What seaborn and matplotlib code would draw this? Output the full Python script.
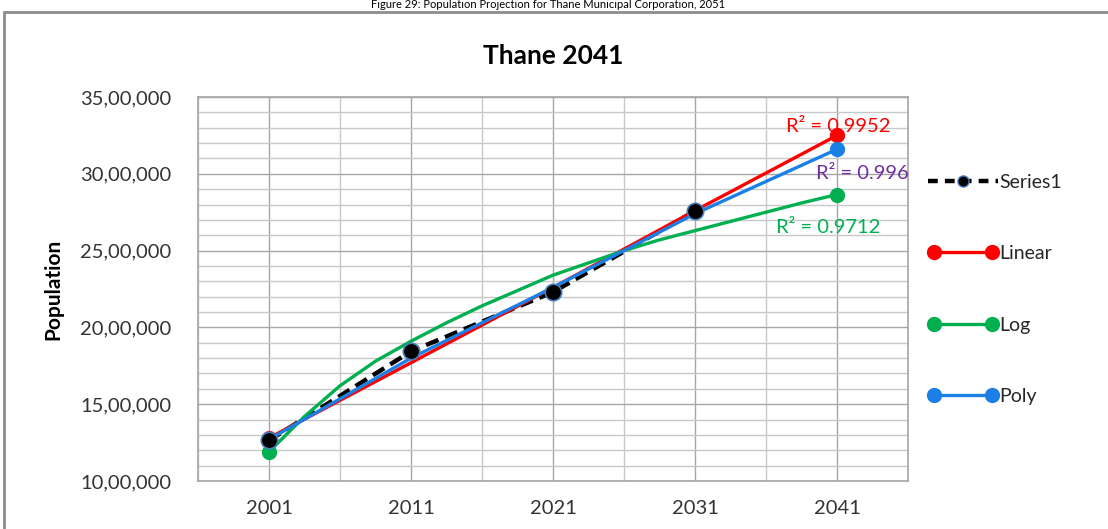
import matplotlib
matplotlib.use("Agg")
import matplotlib.pyplot as plt
from matplotlib.lines import Line2D
from matplotlib.patches import Rectangle
from matplotlib.legend_handler import HandlerLine2D
from matplotlib.ticker import MultipleLocator, FuncFormatter
import seaborn as sns

# Census years on the x axis
years = ["2001", "2011", "2021", "2031", "2041"]
pos_main = [0, 1, 2, 3, 4]

# Observed / projected population (Series1 stops at 2031)
series1 = [1264000, 1844000, 2230000, 2758000]

# Trendline projections at each census year
linear_vals = [1280000, 1770000, 2260000, 2760000, 3250000]
poly_vals = [1270000, 1800000, 2260000, 2740000, 3160000]

# Logarithmic trend, sampled every quarter decade
log_pos = [0, 0.25, 0.5, 0.75, 1, 1.25, 1.5, 1.75, 2,
           2.25, 2.5, 2.75, 3, 3.25, 3.5, 3.75, 4]
log_vals = [1190000, 1420000, 1620000, 1780000, 1910000, 2030000, 2140000, 2240000, 2340000,
            2420000, 2500000, 2570000, 2630000, 2690000, 2750000, 2810000, 2865000]

r2_labels = ["R² = 0.9952", "R² = 0.996", "R² = 0.9712"]

RED = "#FF0000"
GREEN = "#00B050"
BLUE = "#1A80E6"
PURPLE = "#7030A0"
FONT = "Lato"

sns.set_theme(style="white")
plt.rcParams["font.family"] = [FONT, "DejaVu Sans"]

fig = plt.figure(figsize=(11.08, 5.29), dpi=100)
ax = fig.add_axes([198 / 1108, 1 - 481 / 529, 710 / 1108, 384 / 529])

# Grid: category lines plus half-way lines, fine horizontal lines every lakh
ax.set_xlim(-0.5, 4.5)
ax.set_ylim(1000000, 3500000)
ax.xaxis.set_major_locator(MultipleLocator(1))
ax.xaxis.set_minor_locator(MultipleLocator(0.5))
ax.yaxis.set_major_locator(MultipleLocator(500000))
ax.yaxis.set_minor_locator(MultipleLocator(100000))
ax.grid(which="major", color="#A6A6A6", lw=1.0)
ax.grid(which="minor", color="#C8C8C8", lw=1.0)
ax.set_axisbelow(True)
for sp in ax.spines.values():
    sp.set_color("#A6A6A6")
    sp.set_linewidth(1.2)


def indian(v, _pos=None):
    s = str(int(round(v)))
    head, tail = s[:-3], s[-3:]
    groups = []
    while len(head) > 2:
        groups.insert(0, head[-2:])
        head = head[:-2]
    if head:
        groups.insert(0, head)
    return ",".join(groups + [tail]) if groups else tail


ax.yaxis.set_major_formatter(FuncFormatter(indian))
ax.set_xticks(pos_main)
ax.set_xticklabels(years)
ax.tick_params(axis="both", which="both", length=0, labelsize=14.5, colors="#333333")
ax.tick_params(axis="y", pad=19)
ax.tick_params(axis="x", pad=14)

# Series1: dashed black line with outlined markers
sns.lineplot(x=pos_main[:len(series1)], y=series1, ax=ax, color="black", lw=3.2,
             dashes=False, linestyle=(0, (3, 1.6)), zorder=3, legend=False)

# Trendlines with markers at their end points
sns.lineplot(x=pos_main, y=linear_vals, ax=ax, color=RED, lw=2.4, marker="o",
             markersize=11, markeredgewidth=0, markevery=[0, 4], zorder=4, legend=False)
sns.lineplot(x=log_pos, y=log_vals, ax=ax, color=GREEN, lw=2.4, marker="o",
             markersize=11, markeredgewidth=0, markevery=[0, len(log_pos) - 1],
             zorder=4, legend=False)
sns.lineplot(x=pos_main, y=poly_vals, ax=ax, color=BLUE, lw=2.4, marker="o",
             markersize=11, markeredgewidth=0, markevery=[0, 4], zorder=5, legend=False)

sns.scatterplot(x=pos_main[:len(series1)], y=series1, ax=ax, color="black", s=140,
                edgecolor="#4A7EBB", linewidth=1.2, zorder=6, legend=False)

# Goodness-of-fit labels
ax.text(4.01, 3310000, r2_labels[0], color=RED, fontsize=14.5, ha="center", va="center")
ax.text(4.18, 3000000, r2_labels[1], color=PURPLE, fontsize=14.5, ha="center", va="center")
ax.text(3.94, 2650000, r2_labels[2], color=GREEN, fontsize=14.5, ha="center", va="center")

ax.set_title("Thane 2041", fontsize=19, fontweight="bold", color="black", pad=24)
ax.set_ylabel("Population", fontsize=15, fontweight="bold", color="black", labelpad=12)

# Legend
h_series = Line2D([], [], color="black", lw=3.2, linestyle=(0, (2.2, 1.6)), marker="o",
                  markersize=8, markerfacecolor="black", markeredgecolor="#4A7EBB")
h_lin = Line2D([], [], color=RED, lw=2.4, marker="o", markersize=11, markeredgewidth=0)
h_log = Line2D([], [], color=GREEN, lw=2.4, marker="o", markersize=11, markeredgewidth=0)
h_poly = Line2D([], [], color=BLUE, lw=2.4, marker="o", markersize=11, markeredgewidth=0)
fig.legend([h_series, h_lin, h_log, h_poly], ["Series1", "Linear", "Log", "Poly"],
           loc="upper left", bbox_to_anchor=(920 / 1108, 1 - 166 / 529),
           frameon=False, fontsize=14, numpoints=2, handlelength=3.6,
           handletextpad=0.1, labelspacing=2.8, borderaxespad=0,
           handler_map={h_series: HandlerLine2D(numpoints=1)})

# Outer chart frame and the caption above it
fig.patches.append(Rectangle((4 / 1108, -0.05), 1.2, 1 - 12 / 529 + 0.05,
                             transform=fig.transFigure, fill=False,
                             edgecolor="#8C8C8C", lw=2.0))
fig.text(548 / 1108, 1 - 5 / 529, "Figure 29: Population Projection for Thane Municipal Corporation, 2051",
         ha="center", va="center", fontsize=8, color="black")

fig.savefig("out.png", dpi=100)
